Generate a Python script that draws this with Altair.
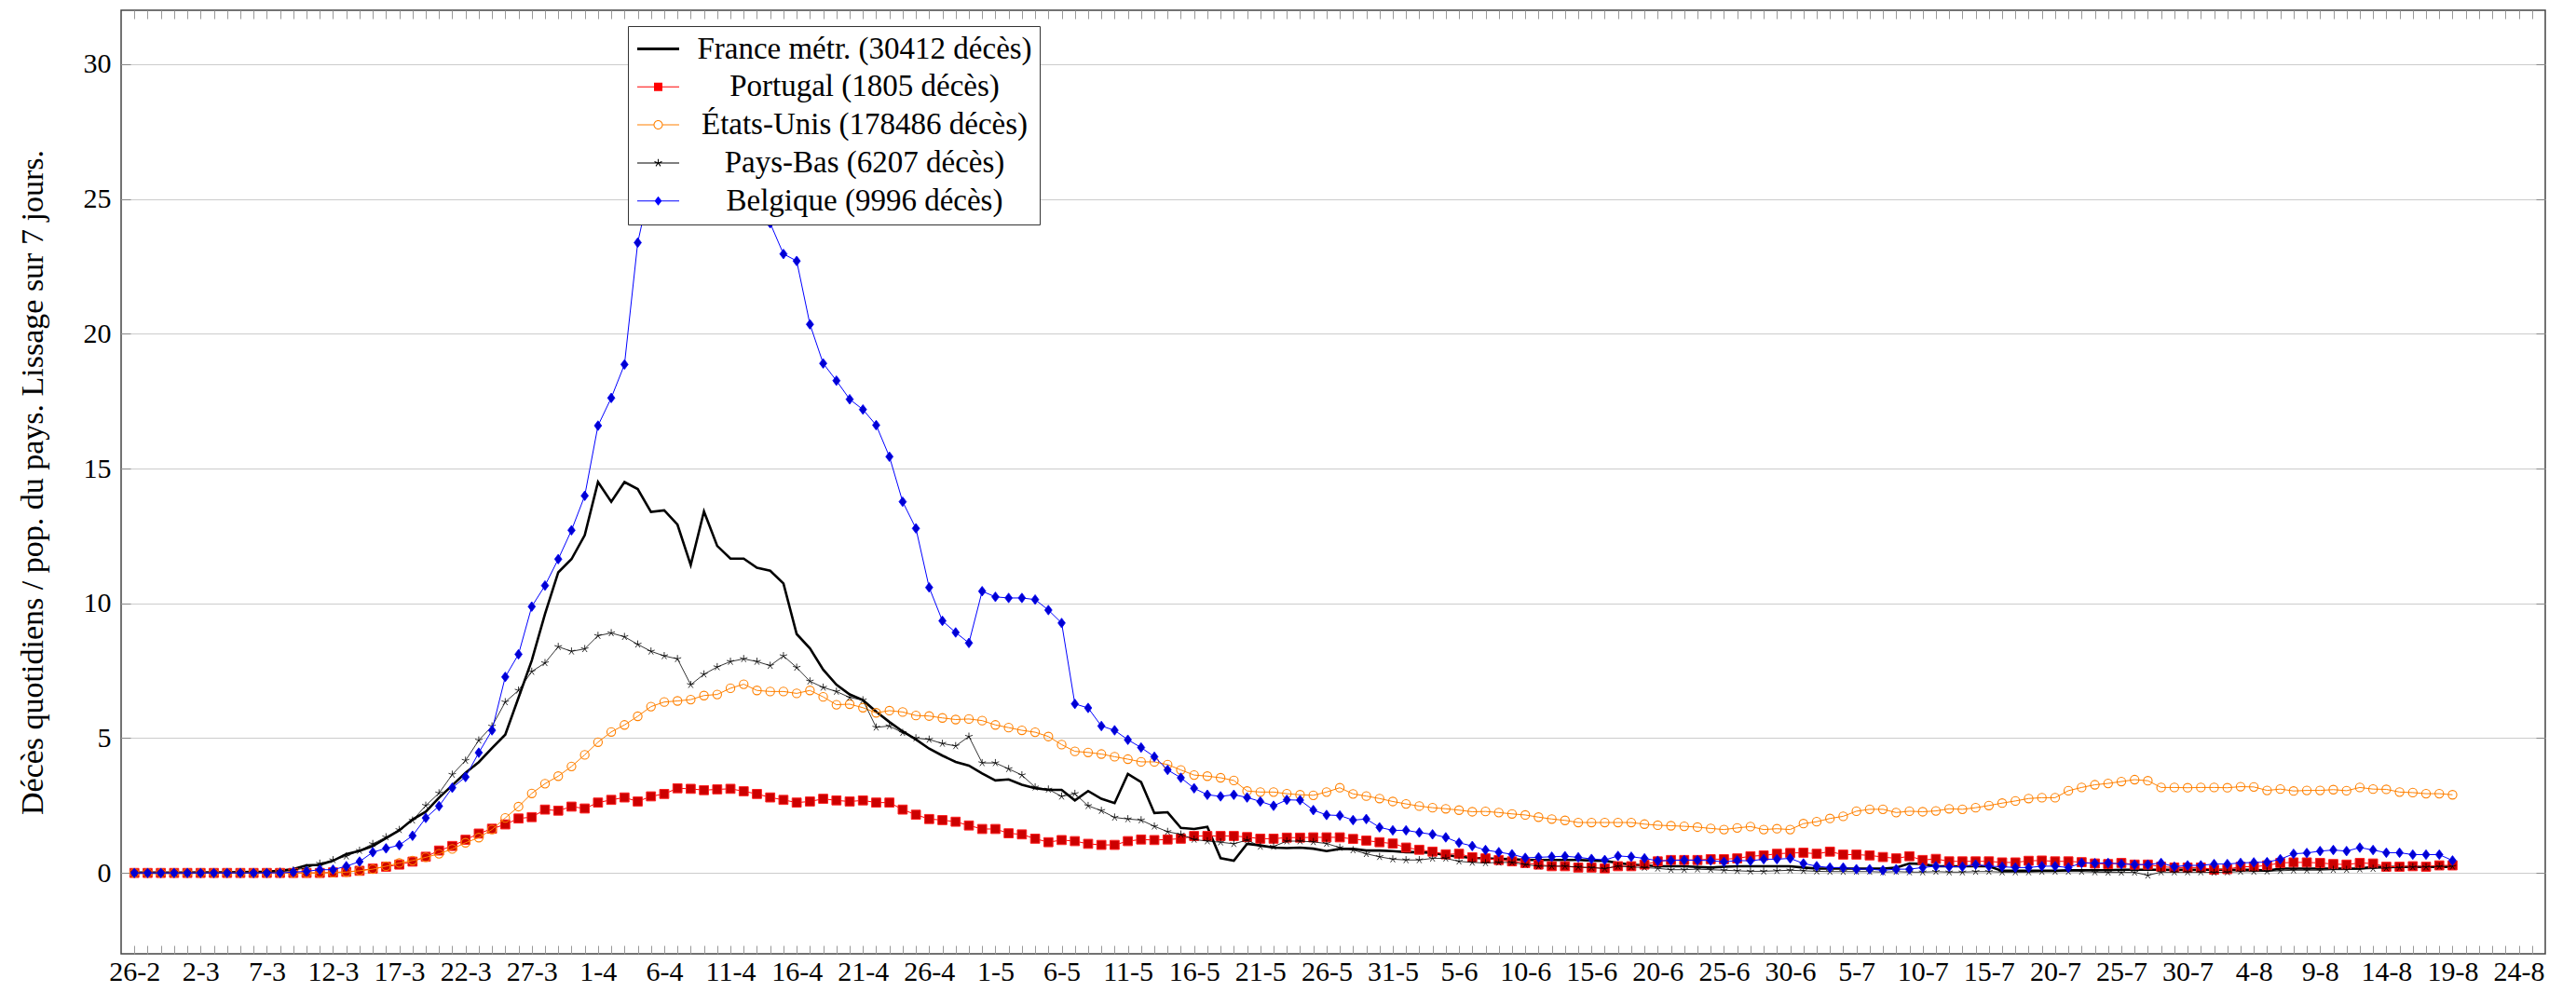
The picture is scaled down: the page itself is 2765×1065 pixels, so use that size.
import json
import math
import pandas as pd
import altair as alt

# ---------------- data ----------------
tick_labels = ["26-2", "2-3", "7-3", "12-3", "17-3", "22-3", "27-3", "1-4", "6-4", "11-4",
               "16-4", "21-4", "26-4", "1-5", "6-5", "11-5", "16-5", "21-5", "26-5", "31-5",
               "5-6", "10-6", "15-6", "20-6", "25-6", "30-6", "5-7", "10-7", "15-7", "20-7",
               "25-7", "30-7", "4-8", "9-8", "14-8", "19-8", "24-8"]

series_names = ["France métr. (30412 décès)", "Portugal (1805 décès)",
                "États-Unis (178486 décès)", "Pays-Bas (6207 décès)", "Belgique (9996 décès)"]

france = [0.01, 0.01, 0.01, 0.01, 0.01, 0.02, 0.02, 0.02, 0.03, 0.04,
          0.05, 0.08, 0.14, 0.28, 0.30, 0.45, 0.70, 0.82, 1.00, 1.29,
          1.58, 1.98, 2.27, 2.79, 3.25, 3.71, 4.11, 4.63, 5.13, 6.50,
          7.88, 9.61, 11.15, 11.64, 12.53, 14.50, 13.77, 14.50, 14.24, 13.39,
          13.45, 12.92, 11.42, 13.41, 12.13, 11.66, 11.66, 11.32, 11.21, 10.74,
          8.86, 8.33, 7.54, 6.98, 6.62, 6.41, 5.98, 5.60, 5.25, 4.95,
          4.61, 4.35, 4.12, 3.98, 3.69, 3.43, 3.47, 3.27, 3.14, 3.08,
          3.08, 2.69, 3.04, 2.75, 2.59, 3.67, 3.37, 2.22, 2.25, 1.67,
          1.63, 1.71, 0.55, 0.45, 1.08, 1.02, 0.94, 0.92, 0.94, 0.90,
          0.81, 0.89, 0.89, 0.83, 0.83, 0.81, 0.77, 0.77, 0.74, 0.66,
          0.60, 0.56, 0.54, 0.52, 0.51, 0.48, 0.48, 0.48, 0.48, 0.48,
          0.46, 0.45, 0.37, 0.31, 0.28, 0.25, 0.25, 0.25, 0.22, 0.20,
          0.23, 0.25, 0.25, 0.25, 0.25, 0.25, 0.20, 0.16, 0.16, 0.16,
          0.16, 0.16, 0.16, 0.20, 0.35, 0.33, 0.25, 0.25, 0.25, 0.25,
          0.25, 0.08, 0.08, 0.08, 0.08, 0.08, 0.10, 0.10, 0.10, 0.10,
          0.12, 0.12, 0.12, 0.12, 0.12, 0.12, 0.12, 0.12, 0.12, 0.12,
          0.12, 0.08, 0.16, 0.16, 0.16, 0.16, 0.16, 0.16, 0.16, 0.22,
          0.22, 0.22, 0.22, 0.22, 0.22, 0.22]

portugal = [0, 0, 0, 0, 0, 0, 0, 0, 0, 0,
            0, 0, 0, 0, 0, 0.02, 0.04, 0.08, 0.16, 0.23,
            0.31, 0.42, 0.60, 0.83, 1.00, 1.23, 1.46, 1.64, 1.80, 2.02,
            2.07, 2.35, 2.31, 2.46, 2.39, 2.61, 2.71, 2.80, 2.65, 2.84,
            2.93, 3.14, 3.12, 3.07, 3.10, 3.12, 3.03, 2.93, 2.80, 2.71,
            2.61, 2.65, 2.75, 2.69, 2.65, 2.69, 2.61, 2.61, 2.35, 2.16,
            2.00, 1.96, 1.90, 1.76, 1.63, 1.63, 1.47, 1.43, 1.27, 1.14,
            1.22, 1.18, 1.08, 1.04, 1.04, 1.18, 1.24, 1.22, 1.24, 1.27,
            1.37, 1.37, 1.37, 1.37, 1.33, 1.27, 1.27, 1.31, 1.31, 1.32,
            1.32, 1.32, 1.26, 1.20, 1.14, 1.09, 0.94, 0.86, 0.79, 0.69,
            0.71, 0.58, 0.54, 0.48, 0.43, 0.37, 0.31, 0.25, 0.25, 0.20,
            0.20, 0.17, 0.25, 0.25, 0.31, 0.43, 0.48, 0.48, 0.48, 0.51,
            0.51, 0.54, 0.62, 0.65, 0.71, 0.74, 0.75, 0.71, 0.79, 0.68,
            0.68, 0.65, 0.59, 0.54, 0.62, 0.48, 0.52, 0.43, 0.43, 0.43,
            0.43, 0.39, 0.39, 0.45, 0.46, 0.43, 0.43, 0.40, 0.35, 0.33,
            0.37, 0.31, 0.31, 0.23, 0.20, 0.20, 0.20, 0.12, 0.14, 0.23,
            0.23, 0.28, 0.37, 0.39, 0.39, 0.37, 0.33, 0.31, 0.37, 0.35,
            0.23, 0.23, 0.25, 0.23, 0.28, 0.28]

usa = [0, 0, 0, 0, 0, 0, 0, 0, 0, 0,
       0, 0, 0, 0, 0, 0.01, 0.03, 0.08, 0.14, 0.25,
       0.37, 0.46, 0.58, 0.71, 0.89, 1.12, 1.31, 1.61, 2.04, 2.46,
       2.95, 3.31, 3.59, 3.95, 4.38, 4.85, 5.23, 5.49, 5.81, 6.17,
       6.34, 6.38, 6.43, 6.58, 6.62, 6.85, 7.00, 6.77, 6.73, 6.73,
       6.66, 6.77, 6.53, 6.24, 6.26, 6.13, 5.94, 6.02, 5.97, 5.84,
       5.82, 5.75, 5.69, 5.71, 5.65, 5.49, 5.39, 5.29, 5.22, 5.06,
       4.76, 4.51, 4.47, 4.41, 4.31, 4.22, 4.12, 4.12, 4.02, 3.82,
       3.63, 3.59, 3.53, 3.43, 3.04, 3.00, 3.00, 2.94, 2.90, 2.88,
       3.00, 3.16, 2.93, 2.85, 2.76, 2.65, 2.56, 2.48, 2.42, 2.38,
       2.33, 2.27, 2.28, 2.24, 2.19, 2.15, 2.07, 2.00, 1.95, 1.87,
       1.87, 1.87, 1.87, 1.87, 1.81, 1.77, 1.75, 1.73, 1.70, 1.65,
       1.61, 1.67, 1.72, 1.61, 1.64, 1.61, 1.83, 1.90, 2.02, 2.10,
       2.29, 2.36, 2.36, 2.24, 2.29, 2.27, 2.30, 2.38, 2.36, 2.42,
       2.50, 2.59, 2.67, 2.76, 2.79, 2.79, 3.05, 3.17, 3.27, 3.32,
       3.39, 3.46, 3.42, 3.17, 3.17, 3.16, 3.17, 3.17, 3.16, 3.20,
       3.19, 3.06, 3.11, 3.04, 3.06, 3.06, 3.09, 3.05, 3.17, 3.11,
       3.10, 3.00, 2.98, 2.94, 2.94, 2.90]

netherlands = [0, 0, 0, 0, 0, 0, 0, 0, 0, 0,
               0.02, 0.05, 0.10, 0.19, 0.35, 0.48, 0.62, 0.83, 1.08, 1.33,
               1.60, 1.95, 2.50, 2.96, 3.65, 4.17, 4.92, 5.44, 6.34, 6.77,
               7.47, 7.79, 8.39, 8.22, 8.31, 8.80, 8.90, 8.76, 8.48, 8.22,
               8.05, 7.94, 6.98, 7.37, 7.64, 7.84, 7.94, 7.84, 7.69, 8.05,
               7.62, 7.11, 6.88, 6.73, 6.51, 6.41, 5.40, 5.45, 5.20, 5.00,
               4.95, 4.80, 4.71, 5.06, 4.08, 4.08, 3.86, 3.63, 3.18, 3.10,
               2.84, 2.94, 2.49, 2.31, 2.06, 2.00, 1.96, 1.73, 1.53, 1.43,
               1.24, 1.18, 1.14, 1.08, 1.22, 0.98, 0.98, 1.18, 1.18, 1.15,
               1.09, 0.94, 0.85, 0.71, 0.60, 0.51, 0.48, 0.48, 0.54, 0.54,
               0.43, 0.39, 0.37, 0.39, 0.39, 0.31, 0.25, 0.25, 0.25, 0.22,
               0.20, 0.16, 0.25, 0.22, 0.20, 0.17, 0.12, 0.12, 0.14, 0.12,
               0.10, 0.08, 0.06, 0.06, 0.08, 0.10, 0.08, 0.06, 0.05, 0.05,
               0.05, 0.05, 0.03, 0.05, 0.03, 0.03, 0.05, 0.03, 0.03, 0.05,
               0.05, 0.03, 0.03, 0.03, 0.05, 0.05, 0.05, 0.05, 0.03, 0.02,
               0.02, 0.02, -0.09, 0.03, 0.03, 0.03, 0.03, 0.02, 0.03, 0.05,
               0.05, 0.06, 0.08, 0.10, 0.10, 0.10, 0.12, 0.12, 0.14, 0.16,
               0.18, 0.20, 0.22, 0.22, 0.24, 0.24]

belgium = [0, 0, 0, 0, 0, 0, 0, 0, 0, 0,
           0, 0, 0.03, 0.06, 0.12, 0.12, 0.25, 0.42, 0.77, 0.91,
           1.03, 1.38, 2.04, 2.48, 3.16, 3.56, 4.46, 5.29, 7.27, 8.11,
           9.88, 10.66, 11.64, 12.71, 13.99, 16.59, 17.62, 18.86, 23.38, 25.60,
           26.60, 27.40, 27.90, 28.30, 28.00, 27.60, 26.80, 25.40, 24.10, 22.96,
           22.70, 20.35, 18.90, 18.26, 17.57, 17.19, 16.61, 15.44, 13.77, 12.78,
           10.59, 9.35, 8.92, 8.53, 10.45, 10.24, 10.20, 10.20, 10.14, 9.75,
           9.27, 6.27, 6.12, 5.45, 5.29, 4.94, 4.65, 4.31, 3.82, 3.53,
           3.14, 2.90, 2.84, 2.90, 2.80, 2.65, 2.49, 2.71, 2.70, 2.33,
           2.15, 2.13, 1.96, 2.00, 1.69, 1.58, 1.58, 1.50, 1.43, 1.32,
           1.12, 1.00, 0.85, 0.77, 0.69, 0.56, 0.58, 0.60, 0.62, 0.58,
           0.52, 0.48, 0.63, 0.60, 0.54, 0.45, 0.46, 0.48, 0.47, 0.46,
           0.41, 0.46, 0.45, 0.51, 0.51, 0.54, 0.35, 0.25, 0.20, 0.20,
           0.14, 0.14, 0.10, 0.14, 0.14, 0.20, 0.25, 0.23, 0.23, 0.31,
           0.25, 0.23, 0.20, 0.20, 0.25, 0.25, 0.20, 0.37, 0.36, 0.37,
           0.33, 0.31, 0.31, 0.37, 0.23, 0.28, 0.28, 0.33, 0.33, 0.37,
           0.39, 0.40, 0.51, 0.71, 0.74, 0.81, 0.85, 0.81, 0.94, 0.85,
           0.75, 0.75, 0.68, 0.68, 0.68, 0.46]

all_series = [france, portugal, usa, netherlands, belgium]

rows = []
for name, vals in zip(series_names, all_series):
    for d, v in enumerate(vals):
        rows.append({"day": d, "value": v, "series": name})
df = pd.DataFrame(rows)

# ---------------- styling ----------------
W, H = 2602, 1013
FONT = "Liberation Serif"
line_colors = ["black", "#ff0000", "#ff8000", "black", "#0000ff"]

xs = alt.Scale(domain=[-1, 182], nice=False, zero=False)
ys = alt.Scale(domain=[-3, 32], nice=False, zero=False)

label_expr = json.dumps(tick_labels) + "[round(datum.value / 5)]"

x_main = alt.Axis(orient="bottom", values=list(range(0, 181, 5)), labelExpr=label_expr,
                  ticks=False, domain=False, grid=False, labelFont=FONT, labelFontSize=30,
                  labelColor="black", labelPadding=4, labelOverlap=False, labelFlush=False,
                  labelBound=False, title=None)
x_in_bottom = alt.Axis(orient="top", offset=-H, values=list(range(0, 182)), labels=False,
                       domain=False, grid=False, ticks=True, tickSize=9, tickColor="#999999",
                       tickWidth=1, title=None)
x_in_top = alt.Axis(orient="bottom", offset=-H, values=list(range(0, 182)), labels=False,
                    domain=False, grid=False, ticks=True, tickSize=9, tickColor="#999999",
                    tickWidth=1, title=None)

y_vals = [0, 5, 10, 15, 20, 25, 30]
y_main = alt.Axis(orient="left", values=y_vals, grid=True, gridColor="#cccccc", gridWidth=1,
                  ticks=False, domain=False, labelFont=FONT, labelFontSize=30,
                  labelColor="black", labelPadding=11,
                  title="Décès quotidiens / pop. du pays. Lissage sur 7 jours.",
                  titleFont=FONT, titleFontSize=34, titleFontWeight="normal", titleColor="black",
                  titleAngle=270, titleX=-85, titleY=H / 2, titleAlign="center",
                  titleBaseline="alphabetic")
y_in_left = alt.Axis(orient="right", offset=-W, values=y_vals, labels=False, domain=False,
                     grid=False, ticks=True, tickSize=10, tickColor="#888888", title=None)
y_in_right = alt.Axis(orient="left", offset=-W, values=y_vals, labels=False, domain=False,
                      grid=False, ticks=True, tickSize=10, tickColor="#888888", title=None)


# ---- legend symbols: a short line plus the marker, drawn as filled outlines ----
def fmt(v):
    return f"{v:.3f}".rstrip("0").rstrip(".")


def star_rays(radius, half_w):
    parts = []
    for deg in (-90, -18, 54, 126, 198):
        a = math.radians(deg)
        tx, ty = radius * math.cos(a), radius * math.sin(a)
        nx, ny = -math.sin(a) * half_w, math.cos(a) * half_w
        pts = [(nx, ny), (tx + nx, ty + ny), (tx - nx, ty - ny), (-nx, -ny)]
        parts.append("M" + "L".join(f"{fmt(x)},{fmt(y)}" for x, y in pts) + "Z")
    return "".join(parts)


LINE_CW = "M-4.5,-0.1H4.5V0.1H-4.5Z"
LINE_CCW = "M-4.5,-0.1V0.1H4.5V-0.1Z"
legend_paths = [
    "M-4.5,-0.3H4.5V0.3H-4.5Z",
    LINE_CW + "M-0.9,-0.9H0.9V0.9H-0.9Z",
    "M-4.5,-0.1H-0.95V0.1H-4.5ZM0.95,-0.1H4.5V0.1H0.95Z"
    "M1,0A1,1 0 1,1 -1,0A1,1 0 1,1 1,0Z"
    "M0.8,0A0.8,0.8 0 1,0 -0.8,0A0.8,0.8 0 1,0 0.8,0Z",
    LINE_CCW + star_rays(0.85, 0.1),
    LINE_CW + "M0,-1L0.78,0L0,1L-0.78,0Z",
]

legend = alt.Legend(title=None, orient="none", legendX=544, legendY=17, direction="vertical",
                    fillColor="white", strokeColor="#333333", padding=8, cornerRadius=0,
                    symbolSize=100, symbolOpacity=1, symbolOffset=8,
                    labelFont=FONT, labelFontSize=33, labelColor="black",
                    labelAlign="center", labelOffset=205, labelLimit=1000, rowPadding=6.8)

base = alt.Chart(df)


def only(i):
    return base.transform_filter(alt.datum.series == series_names[i])


def enc(chart, xaxis=None, yaxis=None):
    return chart.encode(x=alt.X("day:Q", scale=xs, axis=xaxis),
                        y=alt.Y("value:Q", scale=ys, axis=yaxis))


# pgfplots order: each series' line then its markers
fr_line = enc(only(0).mark_line(color="black", strokeWidth=2.6), x_main, y_main)
pt_line = enc(only(1).mark_line(color=line_colors[1], strokeWidth=1), x_in_bottom, y_in_left)
pt_pts = enc(only(1).mark_point(opacity=1, shape="square", size=95, filled=True,
                                fill="#cc0000", stroke="#ff2020", strokeWidth=1),
             x_in_top, y_in_right)
us_line = enc(only(2).mark_line(color=line_colors[2], strokeWidth=1))
us_pts = enc(only(2).mark_point(opacity=1, shape="circle", size=85, filled=False,
                                stroke="#ff8000", strokeWidth=1.1))
nl_line = enc(only(3).mark_line(color=line_colors[3], strokeWidth=0.8))
nl_pts = enc(only(3).mark_point(opacity=1,
                                shape="M0,0L0,-1M0,0L-0.951,-0.309M0,0L-0.588,0.809"
                                      "M0,0L0.588,0.809M0,0L0.951,-0.309",
                                size=70, filled=False, stroke="black", strokeWidth=0.8))
be_line = enc(only(4).mark_line(color=line_colors[4], strokeWidth=1))
be_pts = enc(only(4).mark_point(opacity=1, shape="M0,-1L0.75,0L0,1L-0.75,0Z", size=110,
                                filled=True, fill="#0000d0", stroke="#0000ff", strokeWidth=0.8))

# invisible layer that only carries the legend (colour + line/marker symbol)
legend_layer = base.transform_filter(alt.datum.day == 0).mark_point(
    filled=True, opacity=0, size=100).encode(
    x=alt.X("day:Q", scale=xs, axis=None),
    y=alt.Y("value:Q", scale=ys, axis=None),
    color=alt.Color("series:N", scale=alt.Scale(domain=series_names, range=line_colors),
                    legend=legend),
    shape=alt.Shape("series:N", scale=alt.Scale(domain=series_names, range=legend_paths),
                    legend=legend))

chart = alt.layer(fr_line, pt_line, pt_pts, us_line, us_pts, nl_line, nl_pts,
                  be_line, be_pts, legend_layer).resolve_axis(
    x="independent", y="independent").properties(
    width=W, height=H,
    padding={"left": 122, "right": 10, "top": 3, "bottom": 40},
    autosize=alt.AutoSizeParams(type="none"),
    background="white",
).configure_view(stroke="#444444", strokeWidth=1.5)

chart.save("out.html", embed_options={"renderer": "svg", "actions": False})
